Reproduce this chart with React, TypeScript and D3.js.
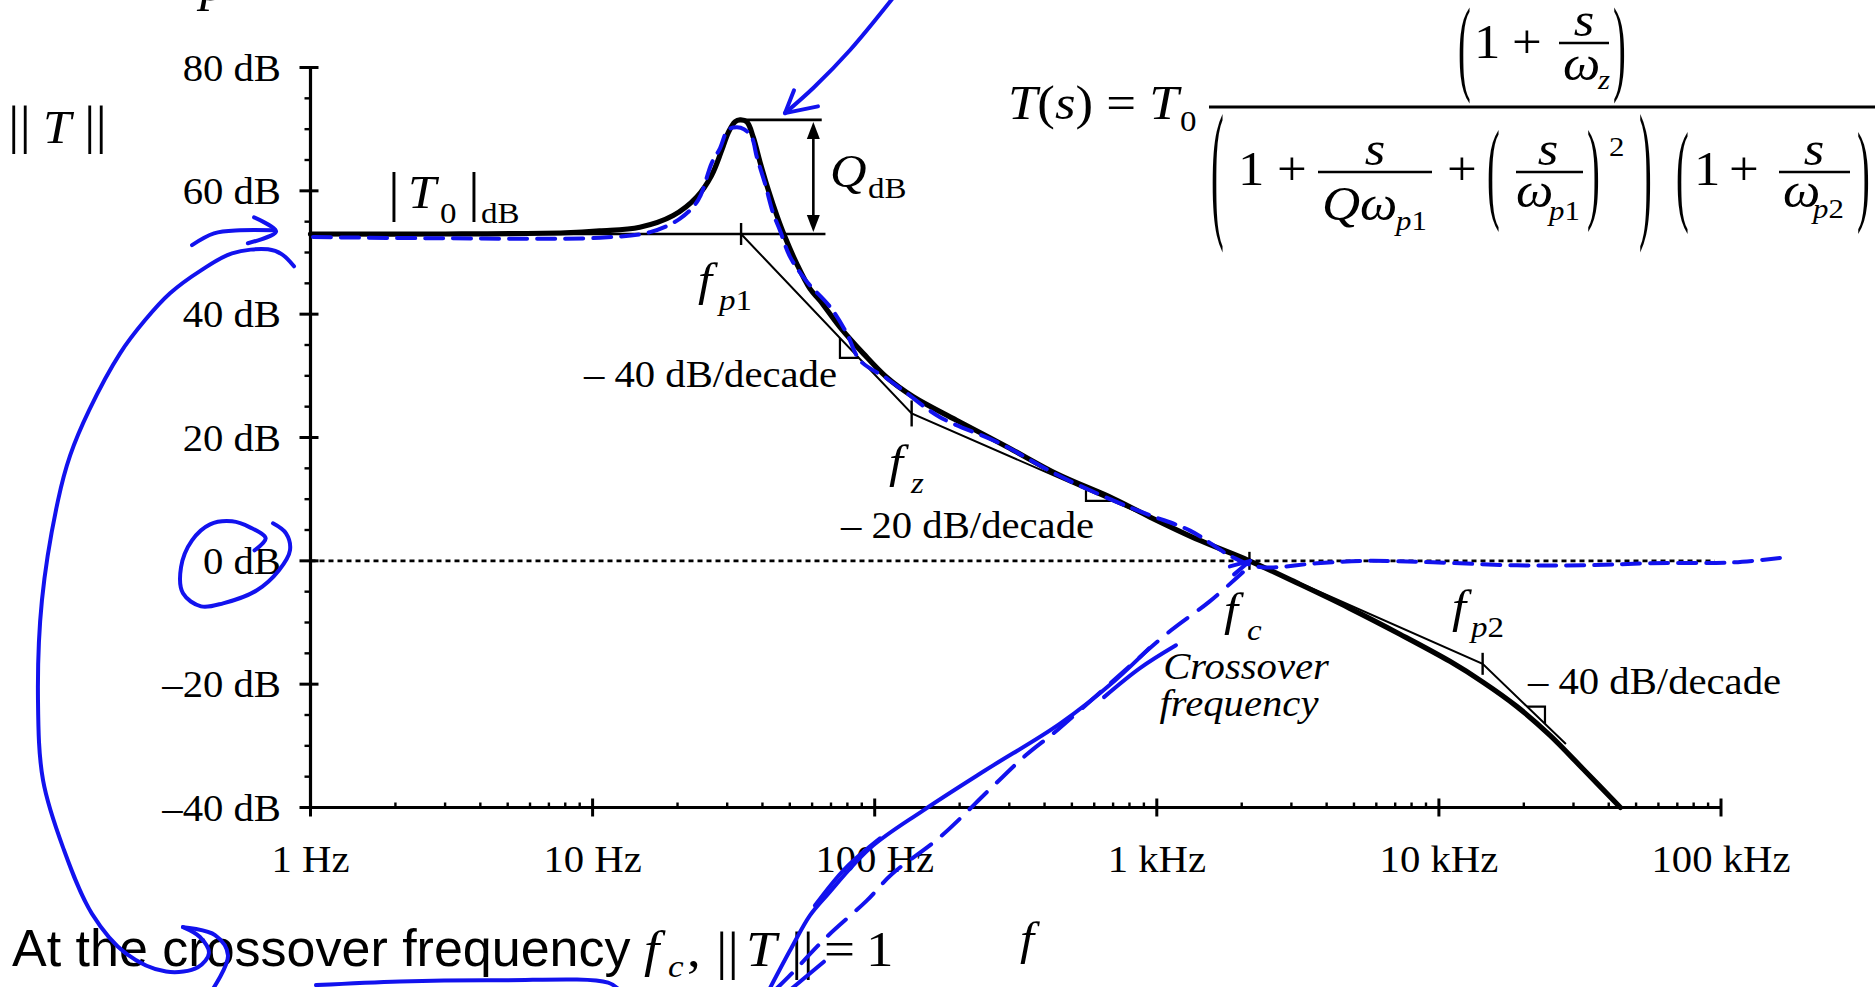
import React from "react";
import * as d3 from "d3";

const SERIF = "'Liberation Serif', 'Times New Roman', serif";
const SANS = "'Liberation Sans', Arial, sans-serif";
const INK = "#1212ee";
const SX = 1.1; // the figure's lettering is set slightly wide

// Axes
const freqRange = [1, 100000];
const dbRange = [-40, 80];
const decadeFreqs = [1, 10, 100, 1000, 10000, 100000];
const decadeLabels = ["1 Hz", "10 Hz", "100 Hz", "1 kHz", "10 kHz", "100 kHz"];
const majorDb = [80, 60, 40, 20, 0, -20, -40];
const majorDbLabels = ["80 dB", "60 dB", "40 dB", "20 dB", "0 dB", "\u201320 dB", "\u201340 dB"];

// Exact magnitude ||T(j2πf)|| in dB
const magFreq = [1, 3, 8, 10.6, 14.7, 19.3, 23.4, 26.4, 28.7, 30.3, 32.0, 33.3, 35.2, 37.1, 39.2, 42.0, 45.0, 48.1, 52.9, 59.0, 64.0, 75.3, 91.2, 110, 137, 195, 294, 442, 701, 946, 1422, 2130, 3214, 4830, 7277, 10940, 14360, 18870, 24770, 32510, 44000];
const magDb = [53.0, 53.0, 53.2, 53.5, 54.1, 56.0, 59.0, 62.5, 66.6, 69.5, 71.2, 71.5, 71.2, 68.7, 64.7, 60.1, 56.0, 52.5, 48.2, 44.1, 42.2, 37.9, 33.6, 29.8, 26.6, 22.8, 18.5, 14.1, 10.1, 7.1, 3.3, 0, -3.8, -7.7, -11.9, -16.3, -19.7, -23.6, -28.3, -33.8, -40];

// Low-frequency gain and resonant peak
const t0Db = 53;
const peakDb = 71.5;
const peakFreq = 33.3;
const refLineEndFreq = 66.9;
const peakLineEndFreq = 64.9;
const qArrowFreq = 60.6;

// Asymptotes: fp1 -> fz -> fc -> fp2 -> beyond
const asymFreq = [33.6, 135.2, 2130, 14290, 28200];
const asymDb = [53, 23.9, 0, -16.7, -29.7];
const cornerFreq = [33.6, 135.2, 2130, 14290];
const cornerTick = [11, 13, 9, 11];

// Slope triangles on the asymptotes
const slopeMarkFrom = [75.3, 561, 20540];
const slopeMarkTo = [87.9, 693.6, 23770];
const slopeMarkKind = ["down", "down", "across"];

// Handwritten ink, [decade, dB]
const inkTrace = [[0.009, 52.5], [0.4945, 52.3], [1.026, 52.4], [1.2035, 53.3], [1.3098, 55.5], [1.374, 58.5], [1.4222, 64.5], [1.4516, 66.9], [1.48, 69.9], [1.511, 70.3], [1.5367, 70.0], [1.564, 68.7], [1.582, 65.5], [1.611, 61.2], [1.64, 56.35], [1.664, 53.6], [1.7, 49.3], [1.759, 45.3], [1.8416, 41.2], [1.9007, 36.9], [1.948, 32.5], [2.0425, 29.6], [2.1134, 27.2], [2.2315, 23.3], [2.444, 19.05], [2.645, 14.0], [2.8447, 9.8], [2.976, 7.4], [3.118, 4.9], [3.27, 0.57], [3.366, -1.0], [3.567, -0.4], [3.744, 0.0], [3.979, -0.24], [4.276, -0.73], [4.511, -0.73], [4.748, -0.4], [5.046, -0.24], [5.227, 0.57]];
const inkTopShaft = [[2.072, 91.7], [1.912, 82.8], [1.785, 76.8], [1.682, 72.6]];
const inkTopHead = [[1.714, 76.3], [1.682, 72.6], [1.799, 73.7]];
const inkLeftShaft = [[-0.42, 51.2], [-0.342, 53.1], [-0.25, 53.6], [-0.126, 53.6]];
const inkLeftHead = [[-0.2, 55.7], [-0.122, 53.4], [-0.222, 51.5]];
const inkBigLoop = [[-0.0585, 47.76], [-0.101, 49.7], [-0.1507, 50.51], [-0.2783, 49.86], [-0.388, 47.1], [-0.498, 43.38], [-0.587, 39.0], [-0.675, 33.65], [-0.785, 24.4], [-0.852, 17.1], [-0.895, 9.81], [-0.952, -6.4], [-0.966, -22.6], [-0.948, -35.6], [-0.877, -46.5], [-0.775, -57.2], [-0.6545, -63.65], [-0.512, -66.6], [-0.399, -65.9], [-0.36, -63.6], [-0.392, -61.0], [-0.452, -59.4]];
const inkLoopTail = [[-0.452, -59.4], [-0.3385, -60.7], [-0.2925, -63.97], [-0.349, -69.65]];
const inkZeroCircle = [[-0.1985, 1.7], [-0.159, 3.65], [-0.2145, 5.43], [-0.278, 6.41], [-0.356, 5.92], [-0.42, 3.32], [-0.459, -1.05], [-0.452, -5.27], [-0.388, -7.38], [-0.31, -6.89], [-0.19, -4.78], [-0.1116, -1.54], [-0.0727, 1.7], [-0.0868, 4.46], [-0.133, 6.08]];
const inkUnderline = [[0.0195, -68.8], [0.317, -68.2], [0.672, -68.0], [1.055, -68.4], [1.097, -69.7]];
const inkToFcDashed = [[1.6466, -69.6], [1.696, -67.4], [1.8274, -61.1], [1.9728, -55.05], [2.0613, -50.8], [2.2315, -44.8], [2.4158, -36.7], [2.5364, -31.5], [2.646, -27.5], [2.834, -19.9], [3.0496, -11.3], [3.1843, -6.7], [3.305, -1.86]];
const inkToFcSolid = [[1.6253, -69.6], [1.6997, -63.2], [1.7706, -57.5], [1.831, -54.2], [1.9833, -46.6], [2.1712, -40.5], [2.391, -34.0], [2.657, -26.4], [2.8518, -19.4], [2.9723, -14.2]];
const inkSecondStroke = [[2.8129, -22.1], [2.9405, -17.4], [3.068, -13.7]];
const inkShortStroke = [[1.6997, -69.6], [1.82, -65.0]];
const inkDoubleStroke = [[1.788, -55.9], [1.895, -49.9], [2.0188, -45.0]];
const inkFcHead = [[3.274, -2.2], [3.331, 0], [3.259, -0.9]];

function Txt({ x, y, size, italic = false, anchor = "start", family = SERIF, sx = SX, children }: any) {
  return (
    <text
      transform={`translate(${x},${y}) scale(${sx},1)`}
      fontFamily={family}
      fontSize={size}
      fontStyle={italic ? "italic" : "normal"}
      textAnchor={anchor}
      fill="#000"
    >
      {children}
    </text>
  );
}

// Delimiter stretched to a given height, kept thin
function TallParen({ x, top, bottom, ch, size = 48 }: any) {
  const k = (bottom - top) / (0.87 * size);
  const base = bottom - 0.18 * size * k;
  return (
    <text transform={`translate(${x},${base}) scale(0.8,${k})`} fontFamily={SERIF} fontSize={size} fill="#000">
      {ch}
    </text>
  );
}

export default function App() {
  const x = d3.scaleLog().domain(freqRange).range([310.5, 1721]);
  const y = d3.scaleLinear().domain(dbRange).range([807.5, 67.5]);
  const xd = (d: number) => x(Math.pow(10, d));
  const asym = d3.scaleLog().domain(asymFreq).range(asymDb);

  const magPath = d3
    .line<number>()
    .x((_, i) => x(magFreq[i]))
    .y((_, i) => y(magDb[i]))
    .curve(d3.curveCatmullRom.alpha(0.5))(magFreq) as string;

  const asymPath = d3
    .line<number>()
    .x((_, i) => x(asymFreq[i]))
    .y((_, i) => y(asymDb[i]))(asymFreq) as string;

  const ink = d3
    .line<number[]>()
    .x((p) => xd(p[0]))
    .y((p) => y(p[1]))
    .curve(d3.curveCatmullRom.alpha(0.5));
  const inkStraight = d3
    .line<number[]>()
    .x((p) => xd(p[0]))
    .y((p) => y(p[1]));

  const xAxisY = y(dbRange[0]);
  const yAxisX = x(freqRange[0]);

  const minorX: number[] = [];
  decadeFreqs.slice(0, -1).forEach((dec) => {
    for (let k = 2; k <= 9; k++) minorX.push(dec * k);
  });
  const minorY = d3.range(dbRange[0], dbRange[1] + 1, 5).filter((v) => v % 20 !== 0);

  const slopePaths = slopeMarkFrom.map((f0, i) => {
    const f1 = slopeMarkTo[i];
    const a0 = asym(f0);
    const a1 = asym(f1);
    if (slopeMarkKind[i] === "down")
      return `M${x(f0)},${y(a0)}V${y(a1)}H${x(f1)}`;
    return `M${x(f0)},${y(a0)}H${x(f1)}V${y(a1)}`;
  });

  const yT0 = y(t0Db);
  const yPk = y(peakDb);
  const xQ = x(qArrowFreq);
  const headL = 17;
  const headW = 6.5;

  return (
    <svg
      width={1875}
      height={987}
      style={{ position: "absolute", left: 0, top: 0, background: "#fff" }}
    >
      {/* text cut at the top edge */}
      <Txt x={200} y={0} size={50} italic>p</Txt>

      {/* zero-dB reference */}
      <line x1={yAxisX} x2={x(95000)} y1={y(0)} y2={y(0)} stroke="#000" strokeWidth={2.6} strokeDasharray="5 4" />

      {/* axes */}
      <line x1={yAxisX} x2={yAxisX} y1={y(dbRange[1])} y2={xAxisY} stroke="#000" strokeWidth={3.2} />
      <line x1={yAxisX} x2={x(freqRange[1])} y1={xAxisY} y2={xAxisY} stroke="#000" strokeWidth={3.2} />
      {majorDb.map((v, i) => (
        <g key={"yt" + v}>
          <line x1={yAxisX - 11} x2={yAxisX + 8} y1={y(v)} y2={y(v)} stroke="#000" strokeWidth={3} />
          <Txt x={281} y={y(v) + 13} size={37} anchor="end">{majorDbLabels[i]}</Txt>
        </g>
      ))}
      {minorY.map((v) => (
        <line key={"ym" + v} x1={yAxisX - 6} x2={yAxisX} y1={y(v)} y2={y(v)} stroke="#000" strokeWidth={2.4} />
      ))}
      {decadeFreqs.map((f, i) => (
        <g key={"xt" + f}>
          <line x1={x(f)} x2={x(f)} y1={xAxisY - 9} y2={xAxisY + 9} stroke="#000" strokeWidth={3} />
          <Txt x={x(f)} y={872} size={37} anchor="middle">{decadeLabels[i]}</Txt>
        </g>
      ))}
      {minorX.map((f) => (
        <line key={"xm" + f} x1={x(f)} x2={x(f)} y1={xAxisY - 5} y2={xAxisY} stroke="#000" strokeWidth={2.4} />
      ))}

      {/* axis titles */}
      <Txt x={8} y={143} size={52}>||</Txt>
      <Txt x={43} y={143} size={46} italic>T</Txt>
      <Txt x={84} y={143} size={52}>||</Txt>
      <Txt x={1020} y={954} size={46} italic>f</Txt>

      {/* reference lines for Q */}
      <line x1={yAxisX} x2={x(refLineEndFreq)} y1={yT0} y2={yT0} stroke="#000" strokeWidth={2.7} />
      <line x1={x(peakFreq)} x2={x(peakLineEndFreq)} y1={yPk} y2={yPk} stroke="#000" strokeWidth={2.7} />
      <line x1={xQ} x2={xQ} y1={yPk + headL} y2={yT0 - headL} stroke="#000" strokeWidth={2.6} />
      <path d={`M${xQ},${yPk + 2}L${xQ - headW},${yPk + 2 + headL}L${xQ + headW},${yPk + 2 + headL}Z`} fill="#000" />
      <path d={`M${xQ},${yT0 - 2}L${xQ - headW},${yT0 - 2 - headL}L${xQ + headW},${yT0 - 2 - headL}Z`} fill="#000" />

      {/* asymptotes */}
      <path d={asymPath} fill="none" stroke="#000" strokeWidth={2} />
      {cornerFreq.map((f, i) => (
        <line key={"ct" + f} x1={x(f)} x2={x(f)} y1={y(asym(f)) - cornerTick[i]} y2={y(asym(f)) + cornerTick[i]} stroke="#000" strokeWidth={2.4} />
      ))}
      {slopePaths.map((d, i) => (
        <path key={"sm" + i} d={d} fill="none" stroke="#000" strokeWidth={2.2} />
      ))}

      {/* magnitude */}
      <path d={magPath} fill="none" stroke="#000" strokeWidth={5.2} strokeLinejoin="round" strokeLinecap="round" />

      {/* labels */}
      <Txt x={388} y={210} size={54}>|</Txt>
      <Txt x={408} y={208} size={46} italic>T</Txt>
      <Txt x={440} y={223} size={30}>0</Txt>
      <Txt x={468} y={210} size={54}>|</Txt>
      <Txt x={481} y={223} size={30}>dB</Txt>

      <Txt x={830} y={187} size={46} italic>Q</Txt>
      <Txt x={868} y={198} size={30}>dB</Txt>

      <Txt x={698} y={295} size={46} italic>f</Txt>
      <Txt x={719} y={310} size={30}><tspan fontStyle="italic">p</tspan>1</Txt>
      <Txt x={889} y={477} size={46} italic>f</Txt>
      <Txt x={911} y={493} size={30} italic>z</Txt>
      <Txt x={1224} y={625} size={46} italic>f</Txt>
      <Txt x={1247} y={640} size={30} italic>c</Txt>
      <Txt x={1452} y={622} size={46} italic>f</Txt>
      <Txt x={1471} y={637} size={30}><tspan fontStyle="italic">p</tspan>2</Txt>

      <Txt x={837} y={387} size={37} anchor="end">{"\u2013 40 dB/decade"}</Txt>
      <Txt x={841} y={538} size={37}>{"\u2013 20 dB/decade"}</Txt>
      <Txt x={1528} y={694} size={37}>{"\u2013 40 dB/decade"}</Txt>
      <Txt x={1246} y={679} size={37} italic anchor="middle">Crossover</Txt>
      <Txt x={1239} y={716} size={37} italic anchor="middle">frequency</Txt>

      {/* T(s) */}
      <Txt x={1008} y={119} size={48}>
        <tspan fontStyle="italic">T</tspan>(<tspan fontStyle="italic">s</tspan>) = <tspan fontStyle="italic">T</tspan>
      </Txt>
      <Txt x={1180} y={131} size={30}>0</Txt>
      <line x1={1209} x2={1875} y1={107} y2={107} stroke="#000" strokeWidth={3} />

      <TallParen x={1458} top={8} bottom={100} ch="(" />
      <Txt x={1474} y={58} size={48}>1</Txt>
      <Txt x={1512} y={58} size={48}>+</Txt>
      <Txt x={1584} y={36} size={48} italic anchor="middle">s</Txt>
      <line x1={1559} x2={1609} y1={43} y2={43} stroke="#000" strokeWidth={2.5} />
      <Txt x={1563} y={80} size={48} italic>ω</Txt>
      <Txt x={1598} y={89} size={28} italic>z</Txt>
      <TallParen x={1613} top={8} bottom={100} ch=")" />

      <TallParen x={1211} top={115} bottom={247} ch="(" />
      <Txt x={1238} y={185} size={48}>1</Txt>
      <Txt x={1277} y={185} size={48}>+</Txt>
      <Txt x={1375} y={165} size={48} italic anchor="middle">s</Txt>
      <line x1={1318} x2={1432} y1={172} y2={172} stroke="#000" strokeWidth={2.5} />
      <Txt x={1322} y={220} size={48} italic>Qω</Txt>
      <Txt x={1396} y={230} size={28}><tspan fontStyle="italic">p</tspan>1</Txt>
      <Txt x={1447} y={185} size={48}>+</Txt>
      <TallParen x={1487} top={130} bottom={228} ch="(" />
      <Txt x={1548} y={165} size={48} italic anchor="middle">s</Txt>
      <line x1={1516} x2={1583} y1={172} y2={172} stroke="#000" strokeWidth={2.5} />
      <Txt x={1516} y={207} size={48} italic>ω</Txt>
      <Txt x={1549} y={220} size={28}><tspan fontStyle="italic">p</tspan>1</Txt>
      <TallParen x={1587} top={130} bottom={228} ch=")" />
      <Txt x={1609} y={156} size={28}>2</Txt>
      <TallParen x={1639} top={115} bottom={247} ch=")" />
      <TallParen x={1676} top={132} bottom={230} ch="(" />
      <Txt x={1694} y={185} size={48}>1</Txt>
      <Txt x={1729} y={185} size={48}>+</Txt>
      <Txt x={1814} y={165} size={48} italic anchor="middle">s</Txt>
      <line x1={1779} x2={1850} y1={172} y2={172} stroke="#000" strokeWidth={2.5} />
      <Txt x={1783} y={207} size={48} italic>ω</Txt>
      <Txt x={1813} y={218} size={28}><tspan fontStyle="italic">p</tspan>2</Txt>
      <TallParen x={1857} top={132} bottom={230} ch=")" />

      {/* caption */}
      <Txt x={12} y={966} size={52} family={SANS} sx={1}>At the crossover frequency</Txt>
      <Txt x={644} y={966} size={50} italic>f</Txt>
      <Txt x={668} y={977} size={32} italic>c</Txt>
      <Txt x={687} y={966} size={50}>,</Txt>
      <Txt x={716} y={969} size={52}>||</Txt>
      <Txt x={746} y={966} size={50} italic>T</Txt>
      <Txt x={791} y={969} size={52}>||</Txt>
      <Txt x={824} y={966} size={50}>=</Txt>
      <Txt x={866} y={966} size={50}>1</Txt>

      {/* handwritten ink */}
      <g fill="none" stroke={INK} strokeWidth={4} strokeLinecap="round" strokeLinejoin="round">
        <path d={ink(inkTrace as any) as string} strokeDasharray="18 10" />
        <path d={ink(inkToFcDashed as any) as string} strokeDasharray="24 14" />
        <path d={ink(inkTopShaft as any) as string} />
        <path d={inkStraight(inkTopHead as any) as string} />
        <path d={ink(inkLeftShaft as any) as string} />
        <path d={ink(inkLeftHead as any) as string} />
        <path d={ink(inkBigLoop as any) as string} />
        <path d={ink(inkLoopTail as any) as string} />
        <path d={ink(inkZeroCircle as any) as string} />
        <path d={ink(inkUnderline as any) as string} />
        <path d={ink(inkToFcSolid as any) as string} />
        <path d={ink(inkSecondStroke as any) as string} />
        <path d={inkStraight(inkShortStroke as any) as string} />
        <path d={ink(inkDoubleStroke as any) as string} />
        <path d={inkStraight(inkFcHead as any) as string} />
      </g>
    </svg>
  );
}
